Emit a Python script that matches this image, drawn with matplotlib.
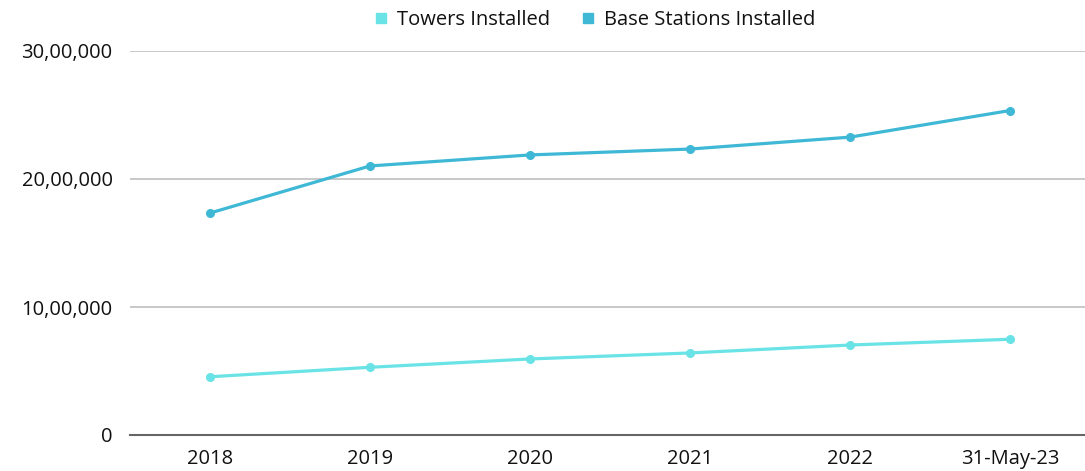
import matplotlib.pyplot as plt
from matplotlib.ticker import FuncFormatter
from matplotlib.lines import Line2D

# Data
years = ['2018', '2019', '2020', '2021', '2022', '31-May-23']
towers = [455000, 529000, 594000, 641000, 703000, 748000]
base_stations = [1734000, 2102000, 2188000, 2234000, 2327000, 2535000]

tower_color = '#6ae3e6'
bs_color = '#3fb8d6'

plt.rcParams['font.family'] = ['Open Sans', 'DejaVu Sans']


def indian_format(v, pos):
    v = int(round(v))
    if v == 0:
        return '0'
    s = str(v)
    last3 = s[-3:]
    rest = s[:-3]
    parts = []
    while len(rest) > 2:
        parts.insert(0, rest[-2:])
        rest = rest[:-2]
    if rest:
        parts.insert(0, rest)
    return ','.join(parts + [last3])


fig = plt.figure(figsize=(10.85, 4.71), dpi=100)
ax = fig.add_axes([130 / 1085, 1 - 435 / 471, 960 / 1085, 384 / 471])

x = range(len(years))
ax.plot(x, towers, color=tower_color, lw=2.3, marker='o', ms=5.5, zorder=3)
ax.plot(x, base_stations, color=bs_color, lw=2.3, marker='o', ms=5.5, zorder=3)

ax.set_xlim(-0.5, 5.5)
ax.set_ylim(0, 3000000)
ax.set_yticks([0, 1000000, 2000000, 3000000])
ax.yaxis.set_major_formatter(FuncFormatter(indian_format))
ax.set_xticks(list(x))
ax.set_xticklabels(years)

ax.grid(axis='y', color='#bfbfbf', lw=1.2)
ax.set_axisbelow(True)
for side in ['top', 'right', 'left']:
    ax.spines[side].set_visible(False)
ax.spines['bottom'].set_color('#666666')
ax.spines['bottom'].set_linewidth(1.5)
ax.tick_params(axis='both', length=0, labelsize=14.5, colors='#111111')
ax.tick_params(axis='y', pad=12.5)
ax.tick_params(axis='x', pad=10)

handles = [
    Line2D([], [], ls='none', marker='s', ms=7, color=tower_color),
    Line2D([], [], ls='none', marker='s', ms=7, color=bs_color),
]
fig.legend(handles, ['Towers Installed', 'Base Stations Installed'],
           loc='center', bbox_to_anchor=(593 / 1085, 1 - 20 / 471), ncol=2,
           frameon=False, fontsize=14.5, handletextpad=0.3, columnspacing=1.4,
           handlelength=1.0, labelcolor='#111111')

fig.savefig('out.png', dpi=100)
